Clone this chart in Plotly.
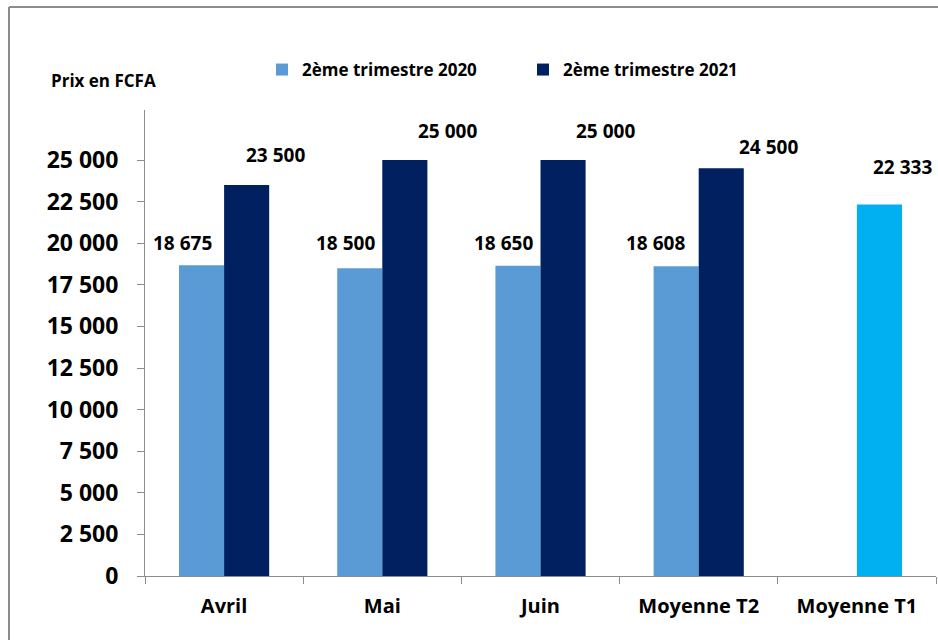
import plotly.graph_objects as go

categories = ["Avril", "Mai", "Juin", "Moyenne T2", "Moyenne T1"]
series_2020_name = "2ème trimestre 2020"
series_2021_name = "2ème trimestre 2021"
values_2020 = [18675, 18500, 18650, 18608, None]
values_2021 = [23500, 25000, 25000, 24500, 22333]
tick_values = [0, 2500, 5000, 7500, 10000, 12500, 15000, 17500, 20000, 22500, 25000]

c2020 = "#5B9BD5"
c2021 = "#002060"
cT1 = "#00B0F0"
bar_colors_2021 = [c2021, c2021, c2021, c2021, cT1]

FONT = "Open Sans"

def fmt(v):
    return f"{v:,}".replace(",", " ")

fig = go.Figure()
fig.add_trace(go.Bar(x=categories, y=values_2020, name=series_2020_name,
                     marker=dict(color=c2020, line=dict(width=0))))
fig.add_trace(go.Bar(x=categories, y=values_2021, name=series_2021_name,
                     marker=dict(color=bar_colors_2021, line=dict(width=0))))

# label pixel offsets (dx from category centre, dy above bar top)
off_2020 = [(-42, 22), (-37, 25), (-37, 23), (-43, 23), None]
off_2021 = [(51, 30), (65, 29), (65, 29), (70, 21), (46, 37)]

label_font = dict(family=FONT, size=19, color="black", weight="bold")
annotations = []
for cat, v, o in zip(categories, values_2020, off_2020):
    if v is None:
        continue
    annotations.append(dict(x=cat, y=v, xref="x", yref="y", text=fmt(v), showarrow=False,
                            xshift=o[0], yshift=o[1], xanchor="center", yanchor="middle",
                            font=label_font))
for cat, v, o in zip(categories, values_2021, off_2021):
    annotations.append(dict(x=cat, y=v, xref="x", yref="y", text=fmt(v), showarrow=False,
                            xshift=o[0], yshift=o[1], xanchor="center", yanchor="middle",
                            font=label_font))

W, H = 938, 640
ml, mr, mt, mb = 145, 2, 110, 64
pw, ph = W - ml - mr, H - mt - mb

def px_x(p):
    return (p - ml) / pw

def px_y(p):
    return (H - mb - p) / ph

annotations.append(dict(x=px_x(49), y=px_y(81), xref="paper", yref="paper", text="Prix en FCFA",
                        showarrow=False, xanchor="left", yanchor="middle",
                        font=dict(family=FONT, size=17, color="black", weight="bold")))

shapes = [
    dict(type="line", xref="paper", yref="paper", x0=px_x(9), x1=px_x(9), y0=px_y(660), y1=px_y(7),
         line=dict(color="#8c8c8c", width=2)),
    dict(type="line", xref="paper", yref="paper", x0=px_x(9), x1=px_x(960), y0=px_y(7), y1=px_y(7),
         line=dict(color="#8c8c8c", width=2)),
]

fig.update_layout(
    width=W, height=H,
    margin=dict(l=ml, r=mr, t=mt, b=mb),
    paper_bgcolor="white", plot_bgcolor="white",
    barmode="group", bargap=0.43, bargroupgap=0,
    showlegend=True,
    legend=dict(orientation="h", x=px_x(262), y=px_y(70), xanchor="left", yanchor="middle",
                font=dict(family=FONT, size=17, color="black", weight="bold"),
                entrywidth=216, bgcolor="rgba(0,0,0,0)", itemclick=False),
    annotations=annotations,
    shapes=shapes,
    font=dict(family=FONT, color="black"),
)
fig.update_xaxes(type="category", showline=True, linecolor="#8c8c8c", linewidth=1,
                 ticks="outside", ticklen=7, tickcolor="#8c8c8c", tickson="boundaries",
                 showgrid=False, tickfont=dict(family=FONT, size=20, color="black", weight="bold"),
                 ticklabelstandoff=12)
fig.update_yaxes(range=[0, 28005], tickvals=tick_values, ticktext=[fmt(v) for v in tick_values],
                 showline=True, linecolor="#8c8c8c", linewidth=1, ticks="outside", ticklen=7,
                 tickcolor="#8c8c8c", showgrid=False, zeroline=False,
                 tickfont=dict(family=FONT, size=23, color="black", weight="bold"),
                 ticklabelstandoff=14)

fig.write_html("out.html", config={"displayModeBar": False},
               post_script="document.body.style.margin='0';document.body.style.overflow='hidden';")
